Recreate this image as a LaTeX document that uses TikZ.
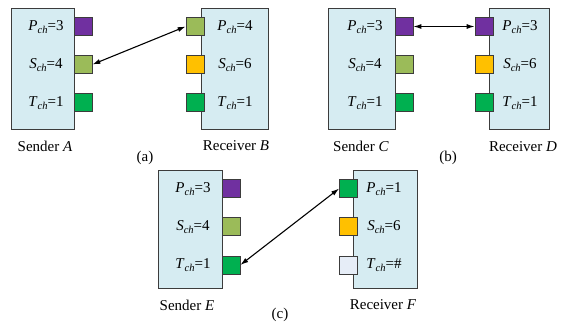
\documentclass[tikz,border=0pt]{standalone}
\usepackage{fontspec}
\setmainfont{Liberation Serif}
\usetikzlibrary{arrows.meta}
\definecolor{boxfill}{RGB}{214,236,242}
\definecolor{edge}{RGB}{60,60,60}
\definecolor{cpurple}{RGB}{112,48,160}
\definecolor{clgreen}{RGB}{155,187,89}
\definecolor{corange}{RGB}{255,192,0}
\definecolor{cgreen}{RGB}{0,176,80}
\definecolor{cpale}{RGB}{230,237,247}
\newcommand\chlbl[3]{\textit{#1}\raisebox{-0.45ex}{\fontsize{10.5}{11}\selectfont\textit{#2}}=#3}
\begin{document}
\begin{tikzpicture}[x=1pt,y=-1pt,
  panel/.style={draw=edge,line width=0.8pt,fill=boxfill},
  sq/.style={draw=edge,line width=0.7pt,minimum size=18pt,inner sep=0pt,fill=#1},
  lab/.style={font=\fontsize{15}{17}\selectfont,inner sep=0pt},
  captext/.style={font=\fontsize{15}{17}\selectfont,inner sep=0pt},
  link/.style={line width=1.1pt,{Latex[length=8pt,width=5pt]}-{Latex[length=8pt,width=5pt]}}]
\useasboundingbox (0,0) rectangle (570,324);
% panel (a)
\draw[panel] (11,8) rectangle (74,129);
\draw[panel] (201,8) rectangle (268,129);
\node[sq=cpurple] (a1) at (83,26.5) {};
\node[sq=clgreen] (a2) at (83,64.5) {};
\node[sq=cgreen] (a3) at (83,102.5) {};
\node[sq=clgreen] (b1) at (195,26.5) {};
\node[sq=corange] (b2) at (195,64.5) {};
\node[sq=cgreen] (b3) at (195,102.5) {};
\node[lab] (la1) at (46,27) {\chlbl{P}{ch}{3}};
\node[lab] (la2) at (46,65) {\chlbl{S}{ch}{4}};
\node[lab] (la3) at (46,103) {\chlbl{T}{ch}{1}};
\node[lab] (lb1) at (235,27) {\chlbl{P}{ch}{4}};
\node[lab] (lb2) at (235,65) {\chlbl{S}{ch}{6}};
\node[lab] (lb3) at (235,103) {\chlbl{T}{ch}{1}};
\node[captext] (ca) at (45,146) {Sender \textit{A}};
\node[captext] (cb) at (236,146) {Receiver \textit{B}};
\node[captext] (pa) at (145,158) {(a)};
\draw[link] (a2.east) -- (b1.west);
% panel (b)
\draw[panel] (328,8) rectangle (395,129);
\draw[panel] (489,8) rectangle (549,129);
\node[sq=cpurple] (c1) at (404,26.5) {};
\node[sq=clgreen] (c2) at (404,64.5) {};
\node[sq=cgreen] (c3) at (404,102.5) {};
\node[sq=cpurple] (d1) at (484,26.5) {};
\node[sq=corange] (d2) at (484,64.5) {};
\node[sq=cgreen] (d3) at (484,102.5) {};
\node[lab] (lc1) at (365,27) {\chlbl{P}{ch}{3}};
\node[lab] (lc2) at (365,65) {\chlbl{S}{ch}{4}};
\node[lab] (lc3) at (365,103) {\chlbl{T}{ch}{1}};
\node[lab] (ld1) at (520,27) {\chlbl{P}{ch}{3}};
\node[lab] (ld2) at (520,65) {\chlbl{S}{ch}{6}};
\node[lab] (ld3) at (520,103) {\chlbl{T}{ch}{1}};
\node[captext] (cc) at (361,146) {Sender \textit{C}};
\node[captext] (cd) at (523,147) {Receiver \textit{D}};
\node[captext] (pb) at (448,158) {(b)};
\draw[link] (c1.east) -- (d1.west);
% panel (c)
\draw[panel] (158,170) rectangle (222,288);
\draw[panel] (353,170) rectangle (417,288);
\node[sq=cpurple] (e1) at (231,188.5) {};
\node[sq=clgreen] (e2) at (231,226.5) {};
\node[sq=cgreen] (e3) at (231,265) {};
\node[sq=cgreen] (f1) at (348.5,188.5) {};
\node[sq=corange] (f2) at (348.5,226.5) {};
\node[sq=cpale] (f3) at (348.5,265) {};
\node[lab] (le1) at (193,189) {\chlbl{P}{ch}{3}};
\node[lab] (le2) at (193,227) {\chlbl{S}{ch}{4}};
\node[lab] (le3) at (193,265) {\chlbl{T}{ch}{1}};
\node[lab] (lf1) at (384,189) {\chlbl{P}{ch}{1}};
\node[lab] (lf2) at (384,227) {\chlbl{S}{ch}{6}};
\node[lab] (lf3) at (384,265) {\chlbl{T}{ch}{\#}};
\node[captext] (ce) at (187,305) {Sender \textit{E}};
\node[captext] (cf) at (383,305) {Receiver \textit{F}};
\node[captext] (pc) at (280,315) {(c)};
\draw[link] (e3.east) -- (f1.west);
\end{tikzpicture}
\end{document}
